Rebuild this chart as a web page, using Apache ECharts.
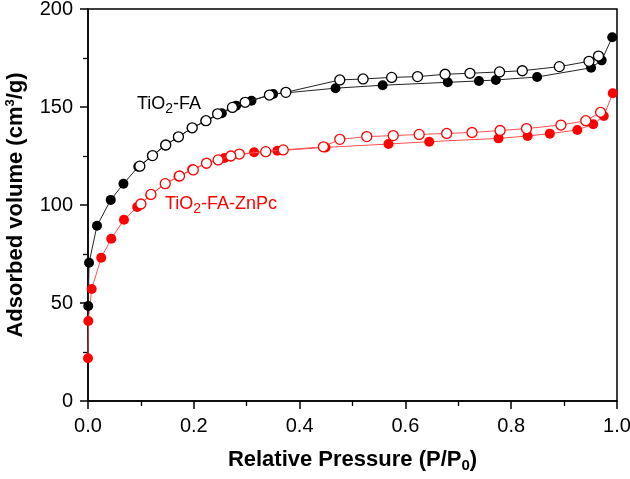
<!DOCTYPE html>
<html><head><meta charset="utf-8">
<script src="https://cdn.jsdelivr.net/npm/echarts@6/dist/echarts.min.js"></script>
<style>html,body{margin:0;padding:0;background:#fff}#c{width:630px;height:479px}</style>
</head><body><div id="c"></div>
<script>
// TiO2-FA adsorption (filled)
const faAdsX = [0.0005, 0.002, 0.017, 0.043, 0.067, 0.095, 0.121, 0.146, 0.170, 0.196, 0.222, 0.253, 0.280, 0.309, 0.350, 0.468, 0.557, 0.680, 0.739, 0.771, 0.849, 0.951, 0.971, 0.991];
const faAdsY = [48.5, 70.5, 89.4, 102.6, 110.8, 119.5, 125.0, 130.4, 134.6, 139.2, 142.8, 146.8, 150.7, 153.2, 156.6, 159.6, 161.1, 162.6, 163.3, 163.8, 165.3, 170.0, 173.8, 185.6];
// TiO2-FA desorption (open)
const faDesX = [0.965, 0.947, 0.891, 0.821, 0.778, 0.722, 0.675, 0.623, 0.574, 0.520, 0.476, 0.374, 0.343, 0.297, 0.273, 0.245, 0.223, 0.197, 0.171, 0.147, 0.122, 0.098];
const faDesY = [176.0, 173.3, 170.6, 168.5, 167.9, 167.2, 166.7, 165.5, 165.1, 164.3, 163.8, 157.5, 156.1, 152.4, 149.8, 146.5, 143.0, 139.4, 134.8, 130.6, 125.2, 119.8];
// TiO2-FA-ZnPc adsorption (filled)
const znAdsX = [0.0, 0.0006, 0.007, 0.025, 0.044, 0.068, 0.093, 0.118, 0.146, 0.171, 0.197, 0.224, 0.258, 0.314, 0.358, 0.449, 0.568, 0.645, 0.776, 0.831, 0.873, 0.925, 0.955, 0.975, 0.992];
const znAdsY = [21.8, 40.8, 57.1, 73.1, 82.8, 92.5, 99.0, 105.2, 110.7, 114.6, 118.2, 121.4, 124.0, 126.9, 127.7, 129.4, 131.1, 132.3, 134.0, 135.2, 136.4, 138.3, 141.2, 145.4, 157.0];
// TiO2-FA-ZnPc desorption (open)
const znDesX = [0.969, 0.941, 0.894, 0.829, 0.779, 0.726, 0.678, 0.626, 0.577, 0.527, 0.476, 0.445, 0.369, 0.336, 0.286, 0.270, 0.246, 0.224, 0.199, 0.173, 0.146, 0.119, 0.100];
const znDesY = [147.3, 143.0, 140.8, 139.0, 138.0, 137.0, 136.5, 136.0, 135.4, 134.9, 133.5, 129.7, 128.1, 127.2, 126.0, 125.0, 123.0, 121.3, 117.9, 114.8, 110.9, 105.4, 100.5];

const xTicks = [0, 0.2, 0.4, 0.6, 0.8, 1.0];
const yTicks = [0, 50, 100, 150, 200];

const zip = (xs, ys) => xs.map((x, i) => [x, ys[i]]);
const FONT = '"Liberation Sans", Arial, sans-serif';

function series(name, xs, ys, lineColor, markColor, open) {
  return {
    name, type: 'line', data: zip(xs, ys),
    symbol: 'circle', symbolSize: 10,
    lineStyle: { color: lineColor, width: 1 },
    itemStyle: open ? { color: '#fff', borderColor: markColor, borderWidth: 1.3 }
                    : { color: markColor, borderColor: markColor, borderWidth: 0 },
    emphasis: { disabled: true }, animation: false, z: open ? 3 : 2
  };
}

const chart = echarts.init(document.getElementById('c'), null, { renderer: 'canvas' });
chart.setOption({
  animation: false,
  grid: { left: 88, right: 13, top: 9, bottom: 78, containLabel: false, outerBoundsMode: 'none',
          show: true, borderColor: '#000', borderWidth: 1.5, backgroundColor: 'transparent' },
  xAxis: {
    type: 'value', min: xTicks[0], max: xTicks[xTicks.length - 1], interval: 0.2,
    axisLine: { show: true, lineStyle: { color: '#000', width: 1.5 } },
    axisTick: { show: true, inside: false, length: 8, lineStyle: { color: '#000', width: 1.5 } },
    minorTick: { show: true, splitNumber: 2, length: 5, lineStyle: { color: '#000', width: 1.3 } },
    splitLine: { show: false },
    axisLabel: { color: '#000', fontSize: 20, fontFamily: FONT, margin: 15, formatter: v => v.toFixed(1) },
    name: '{b|Relative Pressure (P/P}{s|0}{b|)}', nameLocation: 'middle', nameGap: 47,
    nameTextStyle: { rich: {
      b: { fontSize: 22, fontWeight: 'bold', fontFamily: FONT, color: '#000', lineHeight: 24 },
      s: { fontSize: 15, fontWeight: 'bold', fontFamily: FONT, color: '#000', padding: [12, 0, 0, 0], lineHeight: 24 }
    } }
  },
  yAxis: {
    type: 'value', min: yTicks[0], max: yTicks[yTicks.length - 1], interval: 50,
    axisLine: { show: true, lineStyle: { color: '#000', width: 1.5 } },
    axisTick: { show: true, inside: false, length: 8, lineStyle: { color: '#000', width: 1.5 } },
    minorTick: { show: true, splitNumber: 2, length: 5, lineStyle: { color: '#000', width: 1.3 } },
    splitLine: { show: false },
    axisLabel: { color: '#000', fontSize: 20, fontFamily: FONT, margin: 15 },
    name: '{b|Adsorbed volume (cm}{p|3}{b|/g)}', nameLocation: 'middle', nameGap: 49, nameRotate: 90,
    nameTextStyle: { rich: {
      b: { fontSize: 22, fontWeight: 'bold', fontFamily: FONT, color: '#000', lineHeight: 24 },
      p: { fontSize: 13, fontWeight: 'bold', fontFamily: FONT, color: '#000', padding: [0, 0, 12, 0], lineHeight: 24 }
    } }
  },
  graphic: [
    { type: 'text', left: 137, top: 92, style: { text: '{a|TiO}{s|2}{a|-FA}', rich: {
      a: { fontSize: 18, fontFamily: FONT, fill: '#000', lineHeight: 22 },
      s: { fontSize: 14, fontFamily: FONT, fill: '#000', padding: [10, 0, 0, 0], lineHeight: 22 } } } },
    { type: 'text', left: 165, top: 192, style: { text: '{a|TiO}{s|2}{a|-FA-ZnPc}', rich: {
      a: { fontSize: 18, fontFamily: FONT, fill: '#ff0000', lineHeight: 22 },
      s: { fontSize: 14, fontFamily: FONT, fill: '#ff0000', padding: [10, 0, 0, 0], lineHeight: 22 } } } }
  ],
  series: [
    series('ZnPc ads', znAdsX, znAdsY, '#ff5050', '#ff0000', false),
    series('ZnPc des', znDesX, znDesY, '#ff5050', '#ff0000', true),
    series('FA ads', faAdsX, faAdsY, '#222', '#000', false),
    series('FA des', faDesX, faDesY, '#222', '#000', true)
  ]
});
</script></body></html>
